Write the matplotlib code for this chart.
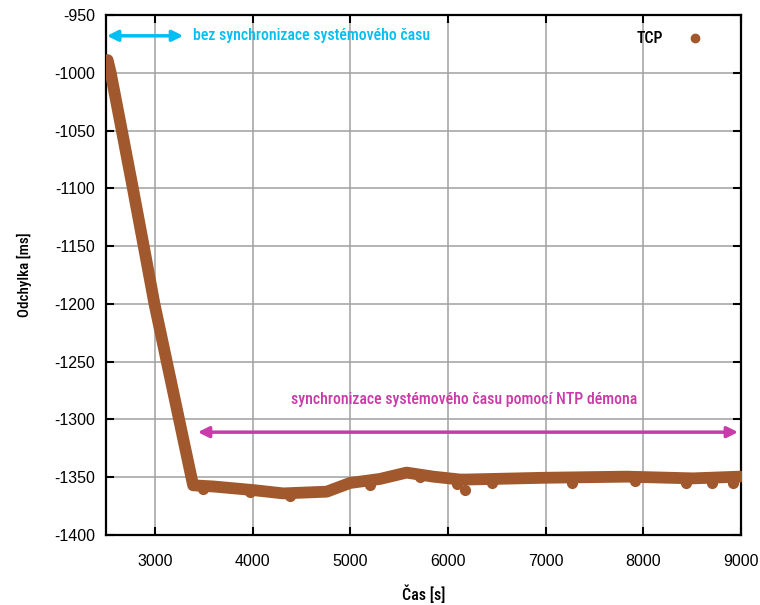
import matplotlib
matplotlib.use("Agg")
import matplotlib.pyplot as plt
from matplotlib import font_manager

# ---- data ----
trend_x = [2517, 2548, 2662, 2775, 2886, 2996, 3122, 3248, 3374, 3392,
           3598, 3991, 4315, 4759, 4997, 5304, 5577, 5850, 6123, 6192,
           6973, 7830, 8508, 8990]
trend_y = [-989, -1000, -1050, -1100, -1150, -1200, -1250, -1300, -1350, -1357,
           -1358, -1361, -1364, -1362.5, -1355, -1351.5, -1346, -1349.5, -1352, -1352,
           -1350.5, -1349.5, -1351, -1349.5]
dip_x = [3493, 3970, 4380, 5202, 5713, 6090, 6175, 6447, 7266, 7915, 8440, 8699, 8920, 9000]
dip_y = [-1360, -1363, -1366, -1357, -1350, -1356, -1361, -1355, -1355, -1353, -1355, -1355, -1355, -1349]
series_label = "TCP"
x_ticks = [3000, 4000, 5000, 6000, 7000, 8000, 9000]
y_ticks = [-1400, -1350, -1300, -1250, -1200, -1150, -1100, -1050, -1000, -950]
x_label = "Čas [s]"
y_label = "Odchylka [ms]"
note1 = "bez synchronizace systémového času"
note2 = "synchronizace systémového času pomocí NTP démona"

plt.rcParams["axes.unicode_minus"] = False

# look for a narrow sans face, most condensed first
fm = font_manager.fontManager
files = {f.fname.split("/")[-1].lower(): f.fname for f in fm.ttflist}
prefs = ["notosans-extracondensedmedium.ttf", "notosans-extracondensed.ttf",
         "robotocondensed-medium.ttf", "robotocondensed-regular.ttf",
         "liberationsansnarrow-regular.ttf",
         "notosans-condensedmedium.ttf", "notosans-condensed.ttf",
         "dejavusanscondensed.ttf"]
cond = None
for p in prefs:
    if p in files:
        cond = files[p]
        break

def fp(size):
    if cond:
        return font_manager.FontProperties(fname=cond, size=size)
    return font_manager.FontProperties(family="DejaVu Sans", stretch="condensed", size=size)

names = {f.name for f in fm.ttflist}
plain = "Liberation Sans" if "Liberation Sans" in names else "DejaVu Sans"

brown = "#A0582C"
cyan = "#00BFF2"
magenta = "#C93BAA"

fig = plt.figure(figsize=(7.6, 6.05), dpi=100)
ax = fig.add_axes([106/760, 70/605, 635/760, 520/605])

ax.plot(trend_x, trend_y, color=brown, lw=8.5, solid_capstyle="round",
        solid_joinstyle="round", zorder=3)
ax.plot(dip_x, dip_y, "o", color=brown, ms=7, zorder=3, label=series_label)

ax.set_xlim(2500, 9000)
ax.set_ylim(-1400, -950)
ax.set_xticks(x_ticks)
ax.set_yticks(y_ticks)
ax.grid(True, color="#a0a0a0", lw=1.1, zorder=0)
ax.set_axisbelow(True)
for s in ax.spines.values():
    s.set_linewidth(1.6)
ax.tick_params(direction="in", length=6, width=1.5, top=True, right=True,
               labelsize=11.5)
ax.tick_params(axis="x", pad=14)
ax.tick_params(axis="y", pad=8)
for lab in ax.get_xticklabels() + ax.get_yticklabels():
    lab.set_family(plain)

ax.set_xlabel(x_label, fontproperties=fp(11.5), labelpad=11)
ax.set_ylabel(y_label, fontproperties=fp(10.8), labelpad=16)

ax.annotate("", xy=(2510, -968), xytext=(3290, -968),
            arrowprops=dict(arrowstyle="<|-|>", color=cyan, lw=2.5, mutation_scale=16,
                            shrinkA=0, shrinkB=0))
ax.text(3390, -968, note1, color=cyan, fontproperties=fp(11.4), va="center", ha="left")

ax.annotate("", xy=(3440, -1311), xytext=(8970, -1311),
            arrowprops=dict(arrowstyle="<|-|>", color=magenta, lw=2.5, mutation_scale=16,
                            shrinkA=0, shrinkB=0))
ax.text(6165, -1283, note2, color=magenta, fontproperties=fp(11.4), va="center", ha="center")

leg = ax.legend(loc="center right", bbox_to_anchor=(0.975, 0.954), frameon=False,
                markerfirst=False, handletextpad=1.0, prop=fp(11.5))
for h in leg.legend_handles:
    h.set_markersize(6)

fig.savefig("out.png", dpi=100)
